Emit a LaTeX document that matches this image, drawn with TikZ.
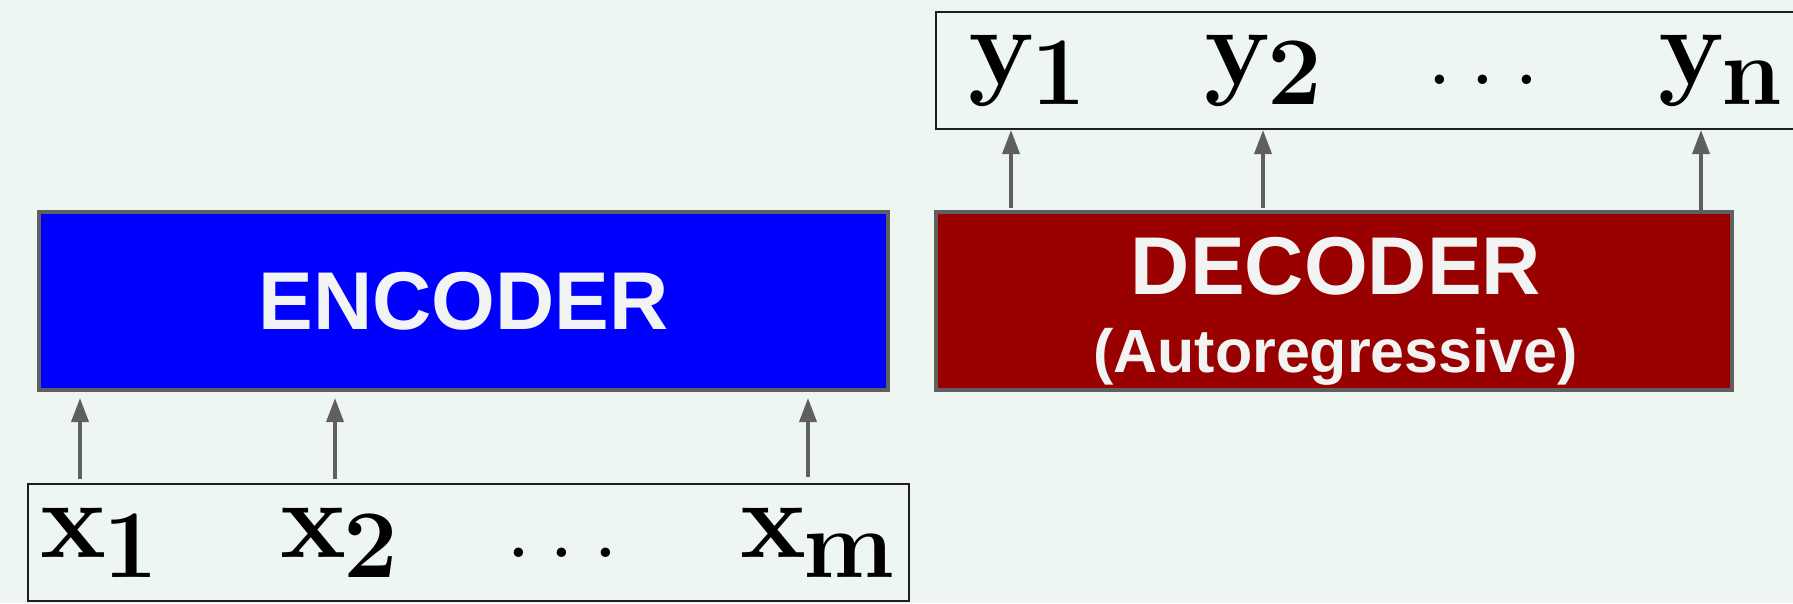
\documentclass[tikz,border=0pt]{standalone}
\usepackage{fontspec}
\setsansfont{Liberation Sans}
\usetikzlibrary{arrows.meta}
\definecolor{bg}{HTML}{EEF6F1}
\definecolor{encblue}{HTML}{0000FF}
\definecolor{decred}{HTML}{990000}
\definecolor{boxgray}{HTML}{5F5F5F}
\definecolor{arrgray}{HTML}{5F5F5F}
\definecolor{txtwhite}{HTML}{F2F4F3}
\definecolor{seqline}{HTML}{1E1E1E}
\newcommand\symlab[2]{\fontsize{111}{116}\selectfont\bfseries #1\kern-2pt\raisebox{-20pt}{\fontsize{97}{100}\selectfont #2}}
\newcommand\symdots{\fontsize{115}{120}\selectfont .\hspace{0.13em}.\hspace{0.13em}.}
\begin{document}
\begin{tikzpicture}[x=1pt,y=-1pt,
  seqbox/.style={draw=seqline, line width=1.8pt, fill=none, inner sep=0pt, outer sep=0pt},
  blockbox/.style={draw=boxgray, line width=3.5pt, inner sep=0pt, outer sep=0pt,
    text=txtwhite, font=\sffamily\bfseries\fontsize{82}{90}\selectfont},
  lab/.style={anchor=base west, inner sep=0pt, outer sep=0pt, text=black},
  arr/.style={draw=arrgray, line width=3.5pt, -{Triangle[length=24pt,width=17pt]}}]
\fill[bg] (0,0) rectangle (1793,603);
\useasboundingbox (0,0) rectangle (1793,603);
\begin{scope}
\clip (0,0) rectangle (1793,603);
% boxes
\node[blockbox, fill=encblue, minimum width=849pt, minimum height=178pt] (enc) at (463.5,301) {ENCODER};
\node[blockbox, fill=decred, minimum width=796pt, minimum height=178pt] (dec) at (1334,301) {};
\node[seqbox, minimum width=881pt, minimum height=117pt] (inp) at (468.5,542.5) {};
\node[seqbox, minimum width=870pt, minimum height=117pt] (out) at (1371,70.5) {};
% decoder text
\node[anchor=base, inner sep=0pt, text=txtwhite, font=\sffamily\bfseries\fontsize{82}{90}\selectfont] (dectitle) at (1336,294) {DECODER};
\node[anchor=base, inner sep=0pt, text=txtwhite, font=\sffamily\bfseries\fontsize{61}{66}\selectfont] (decsub) at (1335.5,372) {(Autoregressive)};
% input labels
\node[lab] (x1) at (40,557) {\symlab{x}{1}};
\node[lab] (x2) at (280,557) {\symlab{x}{2}};
\node[lab] (xd) at (504,557) {\symdots};
\node[lab] (xm) at (740,557) {\symlab{x}{m}};
% output labels
\node[lab] (y1) at (968,84) {\symlab{y}{1}};
\node[lab] (y2) at (1204,84) {\symlab{y}{2}};
\node[lab] (yd) at (1425,84) {\symdots};
\node[lab] (yn) at (1658,84) {\symlab{y}{n}};
% arrow columns
\coordinate (a1) at (80,0);
\coordinate (a2) at (335,0);
\coordinate (a3) at (808,0);
\coordinate (b1) at (1011,0);
\coordinate (b2) at (1263,0);
\coordinate (b3) at (1701,0);
\draw[arr, shorten <=5pt, shorten >=8pt] (inp.north -| a1) -- (enc.south -| a1);
\draw[arr, shorten <=5pt, shorten >=8pt] (inp.north -| a2) -- (enc.south -| a2);
\draw[arr, shorten <=7pt, shorten >=8pt] (inp.north -| a3) -- (enc.south -| a3);
\draw[arr, shorten <=4pt, shorten >=1pt] (dec.north -| b1) -- (out.south -| b1);
\draw[arr, shorten <=4pt, shorten >=1pt] (dec.north -| b2) -- (out.south -| b2);
\draw[arr, shorten <=2pt, shorten >=1pt] (dec.north -| b3) -- (out.south -| b3);
\end{scope}
\end{tikzpicture}
\end{document}
